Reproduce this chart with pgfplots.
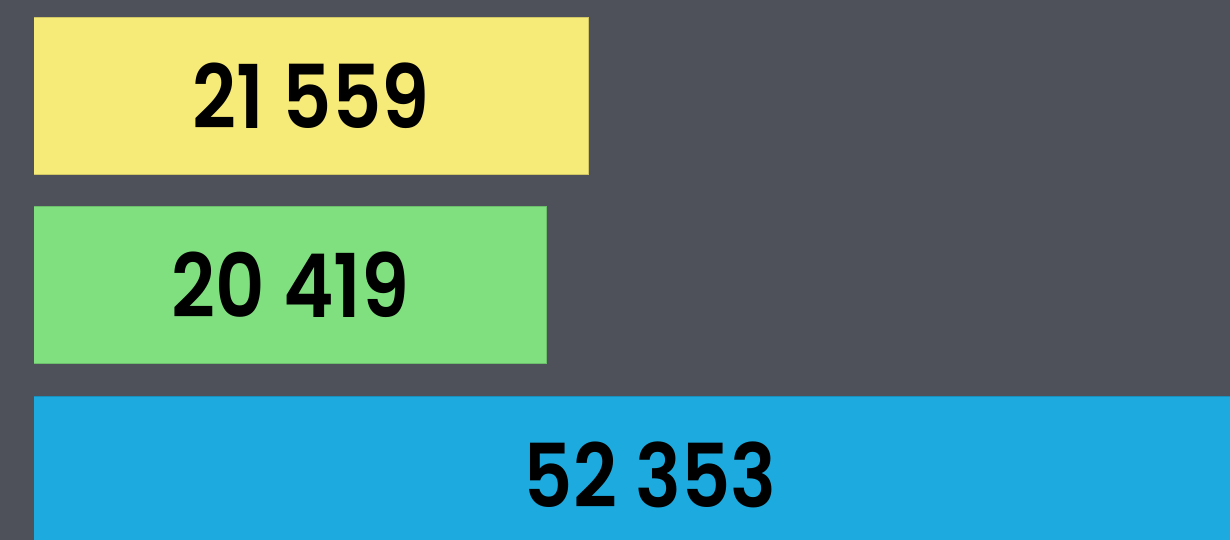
\documentclass[border=0pt]{standalone}
\usepackage{pgfplots}
\pgfplotsset{compat=1.18}
\usepackage{pgfplotstable}
\usepackage{fontspec}
\setmainfont{Poppins}
\newfontfamily\numfont{Poppins SemiBold}[FakeStretch=0.87]
\definecolor{bg}{RGB}{78,81,90}
\definecolor{cyellow}{RGB}{246,234,120}
\definecolor{cgreen}{RGB}{128,224,128}
\definecolor{cblue}{RGB}{29,171,223}
\pgfplotstableread{
y v
2 21559
1 20419
0 52353
}\datatable
\begin{document}
\begin{tikzpicture}
\fill[bg] (0,0) rectangle (1230pt,540pt);
\useasboundingbox (0,0) rectangle (1230pt,540pt);
\begin{axis}[
  at={(34pt,0pt)}, anchor=south west,
  scale only axis, width=1196pt, height=540pt,
  xmode=log, xmin=10444, xmax=49935,
  ymin=-0.3456, ymax=2.504,
  axis lines=none, ticks=none,
]
\addplot[xbar, bar width=157pt, bar shift=0pt, fill=cyellow, draw=cyellow!85!black, line width=0.8pt] coordinates {(21559,2)};
\addplot[xbar, bar width=157pt, bar shift=0pt, fill=cgreen, draw=cgreen!85!black, line width=0.8pt] coordinates {(20419,1)};
\addplot[xbar, bar width=157pt, bar shift=0pt, fill=cblue, draw=cblue!85!black, line width=0.8pt] coordinates {(52353,0)};
\addplot[draw=none, mark=none, point meta=explicit,
  nodes near coords={\pgfmathprintnumber[fixed,precision=0,1000 sep={\ },assume math mode=true]{\pgfplotspointmeta}},
  every node near coord/.append style={anchor=center, inner sep=0pt, text=black, font=\numfont\fontsize{88}{88}\selectfont}]
  table[x expr={sqrt(10444*\thisrow{v})}, y=y, meta=v] {\datatable};
\end{axis}
\end{tikzpicture}
\end{document}
